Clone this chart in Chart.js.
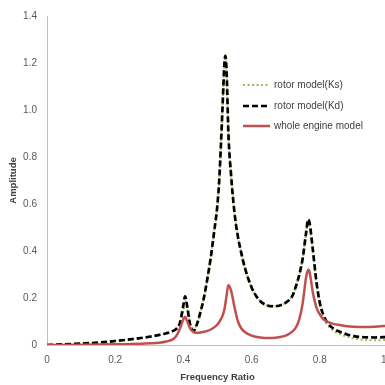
<!DOCTYPE html>
<html><head><meta charset="utf-8">
<script src="https://cdn.jsdelivr.net/npm/chart.js@4/dist/chart.umd.min.js"></script>
<style>html,body{margin:0;padding:0;overflow:hidden;background:#fff;width:385px;height:385px}#wrap{width:420px;height:385px}</style>
</head><body><div id="wrap"><canvas id="c" width="420" height="385"></canvas></div>
<script>
const freq = [0,0.05,0.1,0.15,0.2,0.25,0.3,0.33,0.35,0.37,0.38,0.39,0.4,0.405,0.41,0.42,0.43,0.44,0.45,0.46,0.47,0.48,0.49,0.5,0.505,0.51,0.515,0.52,0.523,0.527,0.532,0.54,0.55,0.56,0.57,0.58,0.6,0.62,0.64,0.66,0.68,0.7,0.72,0.73,0.74,0.75,0.76,0.766,0.77,0.78,0.79,0.8,0.81,0.82,0.84,0.86,0.88,0.9,0.93,0.96,1.0];
const rotorKs = [0,0.003,0.006,0.01,0.017,0.025,0.035,0.043,0.05,0.06,0.07,0.09,0.15,0.19,0.16,0.09,0.07,0.09,0.14,0.2,0.28,0.37,0.48,0.6,0.7,0.85,1.02,1.19,1.23,1.15,0.9,0.72,0.56,0.46,0.39,0.33,0.245,0.195,0.172,0.165,0.167,0.18,0.21,0.25,0.3,0.37,0.48,0.53,0.51,0.4,0.27,0.18,0.12,0.09,0.06,0.045,0.035,0.028,0.022,0.02,0.022];
const rotorKd = [0,0.003,0.006,0.01,0.017,0.025,0.035,0.043,0.05,0.06,0.07,0.095,0.17,0.207,0.175,0.085,0.06,0.09,0.14,0.2,0.28,0.37,0.48,0.6,0.7,0.85,1.02,1.19,1.23,1.15,0.9,0.72,0.56,0.46,0.39,0.33,0.245,0.195,0.172,0.165,0.167,0.18,0.21,0.25,0.3,0.37,0.48,0.535,0.52,0.4,0.27,0.18,0.13,0.1,0.07,0.055,0.045,0.038,0.033,0.032,0.034];
const wholeEngine = [0,0,0.001,0.002,0.003,0.004,0.007,0.01,0.015,0.025,0.04,0.07,0.11,0.12,0.105,0.07,0.055,0.052,0.053,0.056,0.06,0.066,0.075,0.088,0.098,0.11,0.125,0.15,0.175,0.215,0.255,0.23,0.16,0.1,0.07,0.055,0.04,0.033,0.03,0.03,0.033,0.04,0.058,0.075,0.11,0.18,0.29,0.32,0.31,0.22,0.16,0.13,0.11,0.1,0.09,0.085,0.08,0.078,0.077,0.078,0.082];
const seriesLabels = ['rotor model(Ks)','rotor model(Kd)','whole engine model'];
const xTitle = 'Frequency Ratio';
const yTitle = 'Amplitude';

const pts = arr => freq.map((f,i)=>({x:f,y:arr[i]}));
const tickColor = '#595959';

const legendPlugin = {
  id:'inLegend',
  afterDatasetsDraw(chart){
    const ctx = chart.ctx;
    const ds = chart.data.datasets;
    const rows = [85,106,126];
    ctx.save();
    ds.forEach((d,i)=>{
      const y = rows[i];
      ctx.beginPath();
      ctx.strokeStyle = d.borderColor;
      ctx.lineWidth = d.borderWidth;
      ctx.setLineDash(d.borderDash||[]);
      ctx.moveTo(243,y); ctx.lineTo(270,y); ctx.stroke();
      ctx.setLineDash([]);
      ctx.fillStyle = '#404040';
      ctx.font = '10px "Liberation Sans"';
      ctx.textBaseline = 'middle';
      ctx.textAlign = 'left';
      ctx.fillText(d.label, 274, y+0.5);
    });
    ctx.restore();
  }
};

new Chart(document.getElementById('c'), {
  type:'line',
  data:{datasets:[
    {label:seriesLabels[0],data:pts(rotorKs),borderColor:'#9bbb59',borderWidth:2,borderDash:[2,2.5],pointRadius:0,cubicInterpolationMode:'monotone',order:2,fill:false},
    {label:seriesLabels[1],data:pts(rotorKd),borderColor:'#000000',borderWidth:2.7,borderDash:[6,3],pointRadius:0,cubicInterpolationMode:'monotone',order:1,fill:false},
    {label:seriesLabels[2],data:pts(wholeEngine),borderColor:'#c0504d',borderWidth:2.5,pointRadius:0,cubicInterpolationMode:'monotone',order:0,fill:false}
  ]},
  options:{
    responsive:false, animation:false, devicePixelRatio:1,
    layout:{padding:{top:13,right:32,left:0,bottom:0}},
    plugins:{legend:{display:false},tooltip:{enabled:false}},
    scales:{
      x:{type:'linear',min:0,max:1,
        ticks:{stepSize:0.2,color:tickColor,font:{family:'Liberation Sans',size:10},padding:9,maxRotation:0},
        grid:{display:false,drawTicks:false},
        border:{display:true,color:'#bfbfbf',width:1},
        title:{display:true,text:xTitle,color:'#404040',font:{family:'Liberation Sans',size:9.5,weight:'bold'},padding:{top:2,bottom:2}},
        afterFit(s){s.height=40;}
      },
      y:{type:'linear',min:0,max:1.4,
        ticks:{stepSize:0.2,color:tickColor,font:{family:'Liberation Sans',size:10},padding:10},
        grid:{display:false,drawTicks:false},
        border:{display:true,color:'#bfbfbf',width:1},
        title:{display:true,text:yTitle,color:'#404040',font:{family:'Liberation Sans',size:9.5,weight:'bold'},padding:{top:8,bottom:2}},
        afterFit(s){s.width=47;}
      }
    }
  },
  plugins:[legendPlugin]
});
</script></body></html>
